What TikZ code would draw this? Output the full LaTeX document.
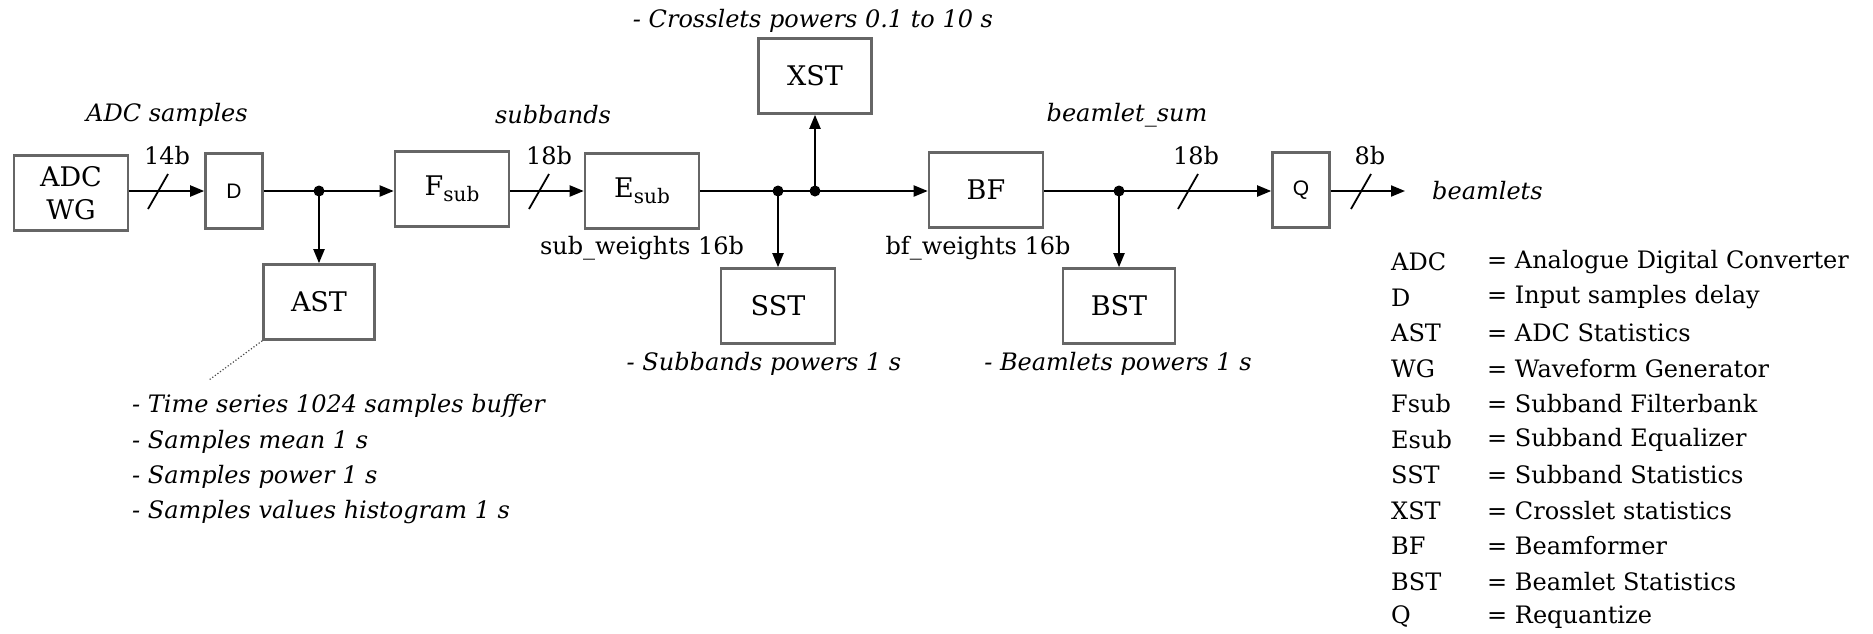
\documentclass[tikz,border=0pt]{standalone}
\usepackage{fontspec}
\setmainfont{DejaVu Serif}
\setsansfont{Liberation Sans}
\usetikzlibrary{arrows.meta}
\newcommand{\subtxt}[1]{\raisebox{-6pt}{\fontsize{20}{20}\selectfont #1}}
\tikzset{
  blk/.style={draw=black!60, line width=2.6pt, inner sep=0pt, minimum width=114pt, minimum height=75pt, font=\fontsize{27}{31}\selectfont},
  sblk/.style={blk, minimum width=57pt, font=\sffamily\fontsize{21}{24}\selectfont},
  wire/.style={line width=2pt, black},
  arr/.style={wire, -{Triangle[length=14pt,width=11pt]}},
  jdot/.style={circle, fill=black, inner sep=0pt, minimum size=11pt},
  lbl/.style={font=\fontsize{24}{28}\selectfont, inner sep=0pt},
  ilbl/.style={font=\fontsize{24}{28}\selectfont\itshape, inner sep=0pt},
  slash/.style={line width=1.8pt, black},
}
\begin{document}
\begin{tikzpicture}[x=1pt,y=-1pt]
\useasboundingbox (0,0) rectangle (1873,633);
% blocks
\node[blk, align=center, font=\fontsize{27}{33}\selectfont] (adc) at (71,193) {ADC\\WG};
\node[sblk] (d) at (234,191) {D};
\node[blk, minimum width=111pt] (ast) at (319,302) {AST};
\node[blk] (fsub) at (452,189) {F\subtxt{sub}};
\node[blk] (esub) at (642,191) {E\subtxt{sub}};
\node[blk, minimum width=113pt] (xst) at (815,76) {XST};
\node[blk] (sst) at (778,306) {SST};
\node[blk] (bf) at (986,190) {BF};
\node[blk, minimum width=112pt] (bst) at (1119,306) {BST};
\node[sblk] (q) at (1301,190) {Q};
% junctions
\node[jdot] (j1) at (319,191) {};
\node[jdot] (j2) at (778,191) {};
\node[jdot] (j3) at (815,191) {};
\node[jdot] (j4) at (1119,191) {};
\coordinate (out) at (1405,191);
% connectors
\draw[arr] (adc.east |- 0,191) -- (d.west |- 0,191);
\draw[wire] (d.east |- j1) -- (j1.center);
\draw[arr] (j1.center) -- (fsub.west |- j1);
\draw[arr] (j1.center) -- (j1 |- ast.north);
\draw[arr] (fsub.east |- 0,191) -- (esub.west |- 0,191);
\draw[wire] (esub.east |- j2) -- (j2.center) -- (j3.center);
\draw[arr] (j3.center) -- (bf.west |- j3);
\draw[arr] (j2.center) -- (j2 |- sst.north);
\draw[arr] (j3.center) -- (j3 |- xst.south);
\draw[wire] (bf.east |- j4) -- (j4.center);
\draw[arr] (j4.center) -- (q.west |- j4);
\draw[arr] (j4.center) -- (j4 |- bst.north);
\draw[arr] (q.east |- out) -- (out);
% bus slashes
\draw[slash] (148,209) -- (168,174);
\draw[slash] (529,209) -- (549,174);
\draw[slash] (1178,209) -- (1198,174);
\draw[slash] (1351,209) -- (1371,174);
% labels
\node[lbl] (b14) at (167,156) {14b};
\node[lbl] (b18a) at (549,156) {18b};
\node[lbl] (b18b) at (1196,156) {18b};
\node[lbl] (b8) at (1370,156) {8b};
\node[ilbl] (ladc) at (167,115) {ADC samples};
\node[ilbl] (lsub) at (553,115) {subbands};
\node[ilbl] (lbs) at (1127,115) {beamlet\_sum};
\node[ilbl] (lxst) at (813,21) {- Crosslets powers 0.1 to 10 s};
\node[lbl] (lsw) at (642,248) {sub\_weights 16b};
\node[lbl] (lbw) at (978,248) {bf\_weights 16b};
\node[ilbl] (lsst) at (764,364) {- Subbands powers 1 s};
\node[ilbl] (lbst) at (1118,364) {- Beamlets powers 1 s};
\node[ilbl, anchor=west] (lout) at (1432,191) {beamlets};
% AST notes
\coordinate (astnote) at (209,380);
\draw[line width=1.2pt, dotted, black!70] (ast.south west) -- (astnote);
\node[ilbl, anchor=west] (a1) at (132,406) {- Time series 1024 samples buffer};
\node[ilbl, anchor=west] (a2) at (132,442) {- Samples mean 1 s};
\node[ilbl, anchor=west] (a3) at (132,477) {- Samples power 1 s};
\node[ilbl, anchor=west] (a4) at (132,512) {- Samples values histogram 1 s};
% legend
\foreach \k/\v [count=\i from 0] in {ADC/Analogue Digital Converter, D/Input samples delay, AST/ADC Statistics, WG/Waveform Generator, Fsub/Subband Filterbank, Esub/Subband Equalizer, SST/Subband Statistics, XST/Crosslet statistics, BF/Beamformer, BST/Beamlet Statistics, Q/Requantize}{
  \node[lbl, anchor=west] (k\i) at (1391,262+35.5*\i) {\k};
  \node[lbl, anchor=west] (v\i) at (1487,262+35.5*\i) {= \v};
}
\end{tikzpicture}
\end{document}
